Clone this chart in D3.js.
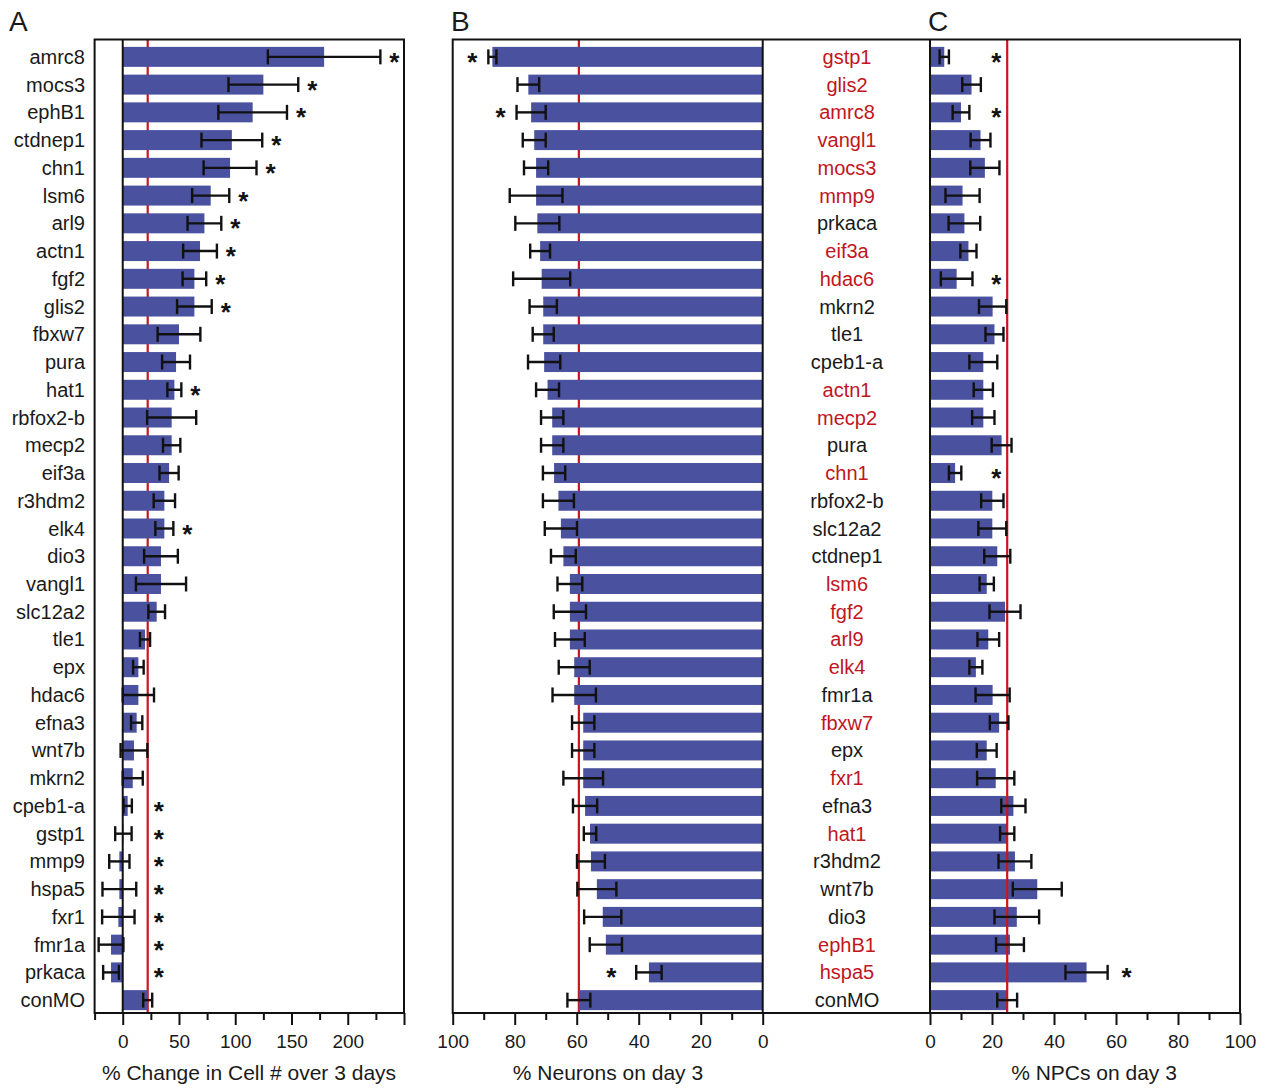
<!DOCTYPE html>
<html><head><meta charset="utf-8">
<script src="https://cdn.jsdelivr.net/npm/d3@7"></script>
<style>body{margin:0;background:#fff}svg{display:block}text{font-family:"Liberation Sans",Arial,sans-serif}</style>
</head><body>
<svg id="c" width="1273" height="1088"></svg>
<script>
// ---------- Panel A data ----------
const genesA = ["amrc8","mocs3","ephB1","ctdnep1","chn1","lsm6","arl9","actn1","fgf2","glis2","fbxw7","pura","hat1","rbfox2-b","mecp2","eif3a","r3hdm2","elk4","dio3","vangl1","slc12a2","tle1","epx","hdac6","efna3","wnt7b","mkrn2","cpeb1-a","gstp1","mmp9","hspa5","fxr1","fmr1a","prkaca","conMO"];
const changeA = [179,125,115.5,97,95.4,78.2,72.6,68.7,63.7,63.7,50,47.4,45.9,43.5,43.5,41.2,37,37,34,34,30.2,19.8,13.9,13.9,12.4,10,8.9,4.4,0.6,-3,-3,-3.9,-10.4,-10.4,22.2];
const errA = [50,31,30.5,27,23.5,16.5,15,15,10.5,15.4,19,12.4,6.2,21.8,7.7,8.5,9.5,8,15,22.3,7.4,4.5,4.7,13.9,5,11.9,8.9,3.7,7.3,9,15,14.4,11,7,4];
const sigA = ["amrc8","mocs3","ephB1","ctdnep1","chn1","lsm6","arl9","actn1","fgf2","glis2","hat1","elk4","cpeb1-a","gstp1","mmp9","hspa5","fxr1","fmr1a","prkaca"];
const ticksA = [0,50,100,150,200,250];
const minorA = [-25,25,75,125,175,225];

// ---------- Panels B & C data ----------
const genesBC = ["gstp1","glis2","amrc8","vangl1","mocs3","mmp9","prkaca","eif3a","hdac6","mkrn2","tle1","cpeb1-a","actn1","mecp2","pura","chn1","rbfox2-b","slc12a2","ctdnep1","lsm6","fgf2","arl9","elk4","fmr1a","fbxw7","epx","fxr1","efna3","hat1","r3hdm2","wnt7b","dio3","ephB1","hspa5","conMO"];
const redGenes = ["gstp1","glis2","amrc8","vangl1","mocs3","mmp9","eif3a","hdac6","actn1","mecp2","chn1","lsm6","fgf2","arl9","elk4","fbxw7","fxr1","hat1","ephB1","hspa5"];
const neuronsB = [87.2,75.6,74.7,73.7,73.1,73.1,72.7,71.8,71.3,70.8,70.8,70.5,69.4,67.9,67.9,67.3,65.9,65.1,64.3,62.2,62.2,62.2,60.8,60.8,57.9,57.9,57.9,57.3,55.7,55.4,53.5,51.6,50.6,36.7,59.3];
const errB = [1.3,3.5,4.7,3.7,3.9,8.5,7.1,3.2,9.2,4.4,3.4,5.2,3.7,3.6,3.6,3.6,5,5.2,4,4,5.2,4.8,5,7,3.6,3.6,6.4,3.9,2,4.5,6.3,6,5.2,4.1,3.7];
const sigB = ["gstp1","amrc8","hspa5"];
const npcC = [4.6,13.4,10,16.3,17.7,10.5,11.1,12.4,8.6,20.2,20.8,17.2,17.2,17.2,23.1,8.1,20.1,20.1,21.7,18.3,24.2,18.8,14.8,20.2,22.3,18.3,21.2,26.9,24.9,27.4,34.6,28,25.8,50.5,24.9];
const errC = [1.5,3,2.7,3.2,4.7,5.5,5.1,2.6,5.1,4.4,2.9,4.5,3.1,3.6,3.2,2,3.6,4.5,4.2,2.3,5,3.5,2.1,5.5,3,3.2,6,3.9,2.3,5.3,7.9,7.2,4.5,6.8,3.2];
const sigC = ["gstp1","amrc8","hdac6","chn1","hspa5"];
const ticksBC = [0,20,40,60,80,100];
const minorBC = [10,30,50,70,90];

// ---------- layout ----------
const svg = d3.select("#c");
const TOP = 39.5, BOT = 1013;
const BAR = "#4a519f", RED = "#c8161e", INK = "#111";
const FONT = "Liberation Sans, Arial, sans-serif";

const yA = d3.scaleBand().domain(genesA).range([43, 1014]).paddingInner(0.28).paddingOuter(0.14);
const yBC = d3.scaleBand().domain(genesBC).range([43, 1014]).paddingInner(0.28).paddingOuter(0.14);
const xA = d3.scaleLinear().domain([-25, 250]).range([94.6, 404]);
const xB = d3.scaleLinear().domain([0, 100]).range([762.7, 452.7]);
const xC = d3.scaleLinear().domain([0, 100]).range([930, 1240]);

function errBar(g, y, x1, x2) {
  const c = y;
  g.append("line").attr("x1", x1).attr("x2", x2).attr("y1", c).attr("y2", c);
  g.append("line").attr("x1", x1).attr("x2", x1).attr("y1", c - 7.5).attr("y2", c + 7.5);
  g.append("line").attr("x1", x2).attr("x2", x2).attr("y1", c - 7.5).attr("y2", c + 7.5);
}
function star(x, yc) {
  svg.append("text").attr("x", x).attr("y", yc + 14).attr("text-anchor", "middle")
    .attr("font-size", 26).attr("font-weight", "bold").attr("fill", INK).text("*");
}
function drawAxis(x, major, minor, labels) {
  const gM = svg.append("g").attr("transform", `translate(0,${BOT})`)
    .call(d3.axisBottom(x).tickValues(major).tickSize(12).tickPadding(10)
      .tickFormat(d => labels.includes(d) ? d : ""));
  const gm = svg.append("g").attr("transform", `translate(0,${BOT})`)
    .call(d3.axisBottom(x).tickValues(minor).tickSize(7).tickFormat(""));
  [gM, gm].forEach(g => {
    g.select(".domain").remove();
    g.selectAll("line").attr("stroke", INK).attr("stroke-width", 2);
    g.selectAll("text").attr("font-size", 19).attr("font-family", FONT).attr("fill", "#1a1a1a");
  });
}

// ---------- Panel A ----------
const refA = changeA[genesA.indexOf("conMO")];
svg.append("line").attr("x1", xA(refA)).attr("x2", xA(refA)).attr("y1", TOP).attr("y2", BOT)
  .attr("stroke", RED).attr("stroke-width", 2.2);
svg.append("g").selectAll("rect").data(genesA).join("rect")
  .attr("x", (d, i) => Math.min(xA(0), xA(changeA[i])))
  .attr("width", (d, i) => Math.abs(xA(changeA[i]) - xA(0)))
  .attr("y", d => yA(d)).attr("height", yA.bandwidth()).attr("fill", BAR);
svg.append("line").attr("x1", xA(0)).attr("x2", xA(0)).attr("y1", TOP).attr("y2", BOT)
  .attr("stroke", INK).attr("stroke-width", 2);
const eA = svg.append("g").attr("stroke", INK).attr("stroke-width", 2.4);
genesA.forEach((g, i) => {
  const yc = yA(g) + yA.bandwidth() / 2;
  const lo = changeA[i] - errA[i], hi = changeA[i] + errA[i];
  errBar(eA, yc, xA(lo), xA(hi));
  if (sigA.includes(g)) {
    const sx = changeA[i] < refA ? xA(refA) + 11 : xA(hi) + 14;
    star(sx, yc);
  }
});
svg.append("rect").attr("x", 94.6).attr("y", TOP).attr("width", 404 - 94.6).attr("height", BOT - TOP)
  .attr("fill", "none").attr("stroke", INK).attr("stroke-width", 2);
svg.append("g").selectAll("text").data(genesA).join("text")
  .attr("x", 85).attr("y", d => yA(d) + yA.bandwidth() / 2).attr("dy", "0.35em")
  .attr("text-anchor", "end").attr("font-size", 20).attr("fill", "#1a1a1a").text(d => d);
drawAxis(xA, ticksA, minorA, [0, 50, 100, 150, 200]);
svg.append("text").attr("x", 249).attr("y", 1080).attr("text-anchor", "middle")
  .attr("font-size", 21).attr("fill", "#1a1a1a").text("% Change in Cell # over 3 days");
svg.append("text").attr("x", 9).attr("y", 31).attr("font-size", 28).attr("fill", "#1a1a1a").text("A");

// ---------- Panel B ----------
const refB = neuronsB[genesBC.indexOf("conMO")];
svg.append("line").attr("x1", xB(refB)).attr("x2", xB(refB)).attr("y1", TOP).attr("y2", BOT)
  .attr("stroke", RED).attr("stroke-width", 2.2);
svg.append("g").selectAll("rect").data(genesBC).join("rect")
  .attr("x", (d, i) => xB(neuronsB[i])).attr("width", (d, i) => xB(0) - xB(neuronsB[i]))
  .attr("y", d => yBC(d)).attr("height", yBC.bandwidth()).attr("fill", BAR);
const eB = svg.append("g").attr("stroke", INK).attr("stroke-width", 2.4);
genesBC.forEach((g, i) => {
  const yc = yBC(g) + yBC.bandwidth() / 2;
  const lo = neuronsB[i] - errB[i], hi = neuronsB[i] + errB[i];
  errBar(eB, yc, xB(hi), xB(lo));
  if (sigB.includes(g)) {
    const sx = neuronsB[i] < refB ? xB(hi) - 25 : xB(hi) - 16;
    star(sx, yc);
  }
});

// ---------- Panel C ----------
svg.append("g").selectAll("rect").data(genesBC).join("rect")
  .attr("x", xC(0)).attr("width", (d, i) => xC(npcC[i]) - xC(0))
  .attr("y", d => yBC(d)).attr("height", yBC.bandwidth()).attr("fill", BAR);
const refC = npcC[genesBC.indexOf("conMO")];
svg.append("line").attr("x1", xC(refC)).attr("x2", xC(refC)).attr("y1", TOP).attr("y2", BOT)
  .attr("stroke", RED).attr("stroke-width", 2.2);
const eC = svg.append("g").attr("stroke", INK).attr("stroke-width", 2.4);
genesBC.forEach((g, i) => {
  const yc = yBC(g) + yBC.bandwidth() / 2;
  const lo = npcC[i] - errC[i], hi = npcC[i] + errC[i];
  errBar(eC, yc, xC(lo), xC(hi));
  if (sigC.includes(g)) {
    const sx = npcC[i] < refC ? xC(refC) - 11 : xC(hi) + 19;
    star(sx, yc);
  }
});

// B/C frame
svg.append("rect").attr("x", 452.7).attr("y", TOP).attr("width", 1240 - 452.7).attr("height", BOT - TOP)
  .attr("fill", "none").attr("stroke", INK).attr("stroke-width", 2);
[xB(0), xC(0)].forEach(x => svg.append("line").attr("x1", x).attr("x2", x).attr("y1", TOP).attr("y2", BOT)
  .attr("stroke", INK).attr("stroke-width", 2));
svg.append("g").selectAll("text").data(genesBC).join("text")
  .attr("x", 847).attr("y", d => yBC(d) + yBC.bandwidth() / 2).attr("dy", "0.35em")
  .attr("text-anchor", "middle").attr("font-size", 20)
  .attr("fill", d => redGenes.includes(d) ? "#c0161e" : "#1a1a1a").text(d => d);
drawAxis(xB, ticksBC, minorBC, ticksBC);
drawAxis(xC, ticksBC, minorBC, ticksBC);
svg.append("text").attr("x", 608).attr("y", 1080).attr("text-anchor", "middle")
  .attr("font-size", 21).attr("fill", "#1a1a1a").text("% Neurons on day 3");
svg.append("text").attr("x", 1094).attr("y", 1080).attr("text-anchor", "middle")
  .attr("font-size", 21).attr("fill", "#1a1a1a").text("% NPCs on day 3");
svg.append("text").attr("x", 451).attr("y", 31).attr("font-size", 28).attr("fill", "#1a1a1a").text("B");
svg.append("text").attr("x", 928).attr("y", 31).attr("font-size", 28).attr("fill", "#1a1a1a").text("C");
</script>
</body></html>
